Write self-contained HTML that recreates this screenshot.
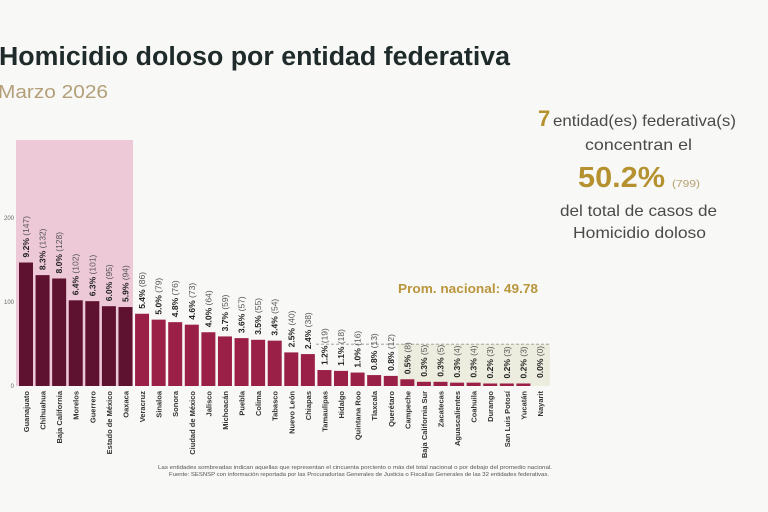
<!DOCTYPE html>
<html><head><meta charset="utf-8"><style>
html,body{margin:0;padding:0;background:#f8f8f6;}
svg{display:block;font-family:"Liberation Sans",sans-serif;}
.v{font-size:8.5px;fill:#555;}
.v tspan.b{font-weight:bold;fill:#222;}
.n{font-size:7.5px;font-weight:bold;fill:#333;}
.t{font-size:6px;fill:#666;}
</style></head><body>
<svg width="768" height="512" viewBox="0 0 768 512" xmlns="http://www.w3.org/2000/svg">
<rect width="768" height="512" fill="#f8f8f6"/>
<text x="-1" y="65" font-size="25.5" font-weight="bold" fill="#1f2b2a" textLength="511" lengthAdjust="spacingAndGlyphs">Homicidio doloso por entidad federativa</text>
<text x="-2" y="98" font-size="18" fill="#b39f78" textLength="110" lengthAdjust="spacingAndGlyphs">Marzo 2026</text>

<text x="538" y="126" font-size="22" font-weight="bold" fill="#b5922f">7</text>
<text x="553" y="126" font-size="16" fill="#4a4a4a" textLength="183" lengthAdjust="spacingAndGlyphs">entidad(es) federativa(s)</text>
<text x="585" y="150" font-size="16" fill="#4a4a4a" textLength="107" lengthAdjust="spacingAndGlyphs">concentran el</text>
<text x="578" y="187" font-size="29" font-weight="bold" fill="#b5922f" textLength="87" lengthAdjust="spacingAndGlyphs">50.2%</text>
<text x="672" y="187" font-size="10" fill="#b8a272" textLength="28" lengthAdjust="spacingAndGlyphs">(799)</text>
<text x="560" y="216" font-size="16" fill="#4a4a4a" textLength="157" lengthAdjust="spacingAndGlyphs">del total de casos de</text>
<text x="573" y="238" font-size="16" fill="#4a4a4a" textLength="133" lengthAdjust="spacingAndGlyphs">Homicidio doloso</text>

<rect x="16" y="140" width="117" height="246" fill="#edc9d7"/>
<rect x="398" y="344" width="152" height="42" fill="#ededdf"/>
<line x1="316" y1="344.2" x2="550" y2="344.2" stroke="#9a9a90" stroke-width="0.8" stroke-dasharray="3,2"/>
<text x="398" y="293" font-size="13" font-weight="bold" fill="#b9953b" textLength="140" lengthAdjust="spacingAndGlyphs">Prom. nacional: 49.78</text>

<text class="t" x="14" y="220" text-anchor="end">200</text>
<text class="t" x="14" y="304" text-anchor="end">100</text>
<text class="t" x="14" y="388" text-anchor="end">0</text>

<g fill="#5e1230">
<rect x="19" y="262.52" width="14" height="123.48"/>
<rect x="35.58" y="275.12" width="14" height="110.88"/>
<rect x="52.16" y="278.48" width="14" height="107.52"/>
<rect x="68.74" y="300.32" width="14" height="85.68"/>
<rect x="85.32" y="301.16" width="14" height="84.84"/>
<rect x="101.9" y="306.2" width="14" height="79.8"/>
<rect x="118.48" y="307.04" width="14" height="78.96"/>
</g>
<g fill="#9b2048">
<rect x="135.06" y="313.76" width="14" height="72.24"/>
<rect x="151.64" y="319.64" width="14" height="66.36"/>
<rect x="168.22" y="322.16" width="14" height="63.84"/>
<rect x="184.8" y="324.68" width="14" height="61.32"/>
<rect x="201.38" y="332.24" width="14" height="53.76"/>
<rect x="217.96" y="336.44" width="14" height="49.56"/>
<rect x="234.54" y="338.12" width="14" height="47.88"/>
<rect x="251.12" y="339.8" width="14" height="46.2"/>
<rect x="267.7" y="340.64" width="14" height="45.36"/>
<rect x="284.28" y="352.4" width="14" height="33.6"/>
<rect x="300.86" y="354.08" width="14" height="31.92"/>
<rect x="317.44" y="370.04" width="14" height="15.96"/>
<rect x="334.02" y="370.88" width="14" height="15.12"/>
<rect x="350.6" y="372.56" width="14" height="13.44"/>
<rect x="367.18" y="375.08" width="14" height="10.92"/>
<rect x="383.76" y="375.92" width="14" height="10.08"/>
<rect x="400.34" y="379.28" width="14" height="6.72"/>
<rect x="416.92" y="381.8" width="14" height="4.2"/>
<rect x="433.5" y="381.8" width="14" height="4.2"/>
<rect x="450.08" y="382.64" width="14" height="3.36"/>
<rect x="466.66" y="382.64" width="14" height="3.36"/>
<rect x="483.24" y="383.48" width="14" height="2.52"/>
<rect x="499.82" y="383.48" width="14" height="2.52"/>
<rect x="516.4" y="383.48" width="14" height="2.52"/>
</g>

<g class="v">
<text transform="translate(29,257.5) rotate(-90)"><tspan class="b">9.2%</tspan> (147)</text>
<text transform="translate(45.58,270.1) rotate(-90)"><tspan class="b">8.3%</tspan> (132)</text>
<text transform="translate(62.16,273.5) rotate(-90)"><tspan class="b">8.0%</tspan> (128)</text>
<text transform="translate(78.74,295.3) rotate(-90)"><tspan class="b">6.4%</tspan> (102)</text>
<text transform="translate(95.32,296.2) rotate(-90)"><tspan class="b">6.3%</tspan> (101)</text>
<text transform="translate(111.9,301.2) rotate(-90)"><tspan class="b">6.0%</tspan> (95)</text>
<text transform="translate(128.48,302) rotate(-90)"><tspan class="b">5.9%</tspan> (94)</text>
<text transform="translate(145.06,308.8) rotate(-90)"><tspan class="b">5.4%</tspan> (86)</text>
<text transform="translate(161.64,314.6) rotate(-90)"><tspan class="b">5.0%</tspan> (79)</text>
<text transform="translate(178.22,317.2) rotate(-90)"><tspan class="b">4.8%</tspan> (76)</text>
<text transform="translate(194.8,319.7) rotate(-90)"><tspan class="b">4.6%</tspan> (73)</text>
<text transform="translate(211.38,327.2) rotate(-90)"><tspan class="b">4.0%</tspan> (64)</text>
<text transform="translate(227.96,331.4) rotate(-90)"><tspan class="b">3.7%</tspan> (59)</text>
<text transform="translate(244.54,333.1) rotate(-90)"><tspan class="b">3.6%</tspan> (57)</text>
<text transform="translate(261.12,334.8) rotate(-90)"><tspan class="b">3.5%</tspan> (55)</text>
<text transform="translate(277.7,335.6) rotate(-90)"><tspan class="b">3.4%</tspan> (54)</text>
<text transform="translate(294.28,347.4) rotate(-90)"><tspan class="b">2.5%</tspan> (40)</text>
<text transform="translate(310.86,349.1) rotate(-90)"><tspan class="b">2.4%</tspan> (38)</text>
<text transform="translate(327.44,365) rotate(-90)"><tspan class="b">1.2%</tspan> (19)</text>
<text transform="translate(344.02,365.9) rotate(-90)"><tspan class="b">1.1%</tspan> (18)</text>
<text transform="translate(360.6,367.6) rotate(-90)"><tspan class="b">1.0%</tspan> (16)</text>
<text transform="translate(377.18,370.1) rotate(-90)"><tspan class="b">0.8%</tspan> (13)</text>
<text transform="translate(393.76,370.9) rotate(-90)"><tspan class="b">0.8%</tspan> (12)</text>
<text transform="translate(410.34,374.3) rotate(-90)"><tspan class="b">0.5%</tspan> (8)</text>
<text transform="translate(426.92,376.8) rotate(-90)"><tspan class="b">0.3%</tspan> (5)</text>
<text transform="translate(443.5,376.8) rotate(-90)"><tspan class="b">0.3%</tspan> (5)</text>
<text transform="translate(460.08,377.6) rotate(-90)"><tspan class="b">0.3%</tspan> (4)</text>
<text transform="translate(476.66,377.6) rotate(-90)"><tspan class="b">0.3%</tspan> (4)</text>
<text transform="translate(493.24,378.5) rotate(-90)"><tspan class="b">0.2%</tspan> (3)</text>
<text transform="translate(509.82,378.5) rotate(-90)"><tspan class="b">0.2%</tspan> (3)</text>
<text transform="translate(526.4,378.5) rotate(-90)"><tspan class="b">0.2%</tspan> (3)</text>
<text transform="translate(542.98,378) rotate(-90)"><tspan class="b">0.0%</tspan> (0)</text>
</g>

<g class="n" text-anchor="end">
<text transform="translate(29,391) rotate(-90)">Guanajuato</text>
<text transform="translate(45.58,391) rotate(-90)">Chihuahua</text>
<text transform="translate(62.16,391) rotate(-90)">Baja California</text>
<text transform="translate(78.74,391) rotate(-90)">Morelos</text>
<text transform="translate(95.32,391) rotate(-90)">Guerrero</text>
<text transform="translate(111.9,391) rotate(-90)">Estado de México</text>
<text transform="translate(128.48,391) rotate(-90)">Oaxaca</text>
<text transform="translate(145.06,391) rotate(-90)">Veracruz</text>
<text transform="translate(161.64,391) rotate(-90)">Sinaloa</text>
<text transform="translate(178.22,391) rotate(-90)">Sonora</text>
<text transform="translate(194.8,391) rotate(-90)">Ciudad de México</text>
<text transform="translate(211.38,391) rotate(-90)">Jalisco</text>
<text transform="translate(227.96,391) rotate(-90)">Michoacán</text>
<text transform="translate(244.54,391) rotate(-90)">Puebla</text>
<text transform="translate(261.12,391) rotate(-90)">Colima</text>
<text transform="translate(277.7,391) rotate(-90)">Tabasco</text>
<text transform="translate(294.28,391) rotate(-90)">Nuevo León</text>
<text transform="translate(310.86,391) rotate(-90)">Chiapas</text>
<text transform="translate(327.44,391) rotate(-90)">Tamaulipas</text>
<text transform="translate(344.02,391) rotate(-90)">Hidalgo</text>
<text transform="translate(360.6,391) rotate(-90)">Quintana Roo</text>
<text transform="translate(377.18,391) rotate(-90)">Tlaxcala</text>
<text transform="translate(393.76,391) rotate(-90)">Querétaro</text>
<text transform="translate(410.34,391) rotate(-90)">Campeche</text>
<text transform="translate(426.92,391) rotate(-90)">Baja California Sur</text>
<text transform="translate(443.5,391) rotate(-90)">Zacatecas</text>
<text transform="translate(460.08,391) rotate(-90)">Aguascalientes</text>
<text transform="translate(476.66,391) rotate(-90)">Coahuila</text>
<text transform="translate(493.24,391) rotate(-90)">Durango</text>
<text transform="translate(509.82,391) rotate(-90)">San Luis Potosí</text>
<text transform="translate(526.4,391) rotate(-90)">Yucatán</text>
<text transform="translate(542.98,391) rotate(-90)">Nayarit</text>
</g>

<text x="158" y="469" font-size="5.5" fill="#555" textLength="394" lengthAdjust="spacingAndGlyphs">Las entidades sombreadas indican aquellas que representan el cincuenta porciento o más del total nacional o por debajo del promedio nacional.</text>
<text x="169" y="476" font-size="5.5" fill="#555" textLength="380" lengthAdjust="spacingAndGlyphs">Fuente: SESNSP con información reportada por las Procuradurías Generales de Justicia o Fiscalías Generales de las 32 entidades federativas.</text>
</svg>
</body></html>
